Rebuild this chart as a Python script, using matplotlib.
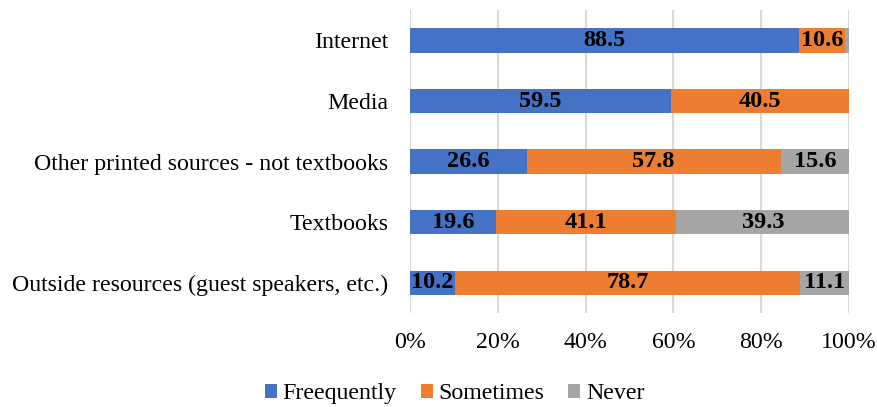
import numpy as np
from matplotlib import pyplot as plt

plt.rcParams['font.family'] = ['Liberation Serif', 'DejaVu Serif']

categories = ['Internet', 'Media', 'Other printed sources - not textbooks',
              'Textbooks', 'Outside resources (guest speakers, etc.)']
frequently = [88.5, 59.5, 26.6, 19.6, 10.2]
sometimes = [10.6, 40.5, 57.8, 41.1, 78.7]
never = [0.9, 0.0, 15.6, 39.3, 11.1]

series_names = ['Freequently', 'Sometimes', 'Never']
colors = ['#4472C4', '#ED7D31', '#A5A5A5']

fig = plt.figure(figsize=(8.78, 4.07), dpi=100)
ax = fig.add_axes([0.467, 0.231, 0.5, 0.744])

y = np.arange(len(categories))
left = np.zeros(len(categories))
for name, vals, col in zip(series_names, [frequently, sometimes, never], colors):
    vals = np.array(vals)
    ax.barh(y, vals, left=left, height=0.4, color=col, label=name, zorder=2)
    for yi, l, v in zip(y, left, vals):
        if v >= 5:
            ax.text(l + v / 2, yi, '{:.1f}'.format(v), ha='center', va='center',
                    fontsize=17.5, fontweight='bold', color='black', zorder=3)
    left += vals

ax.set_xlim(0, 100)
ax.set_ylim(4.5, -0.5)
ax.set_yticks(y)
ax.set_yticklabels(categories, fontsize=17.2)
ax.set_xticks([0, 20, 40, 60, 80, 100])
ax.set_xticklabels(['0%', '20%', '40%', '60%', '80%', '100%'], fontsize=17.2)
ax.tick_params(length=0, pad=14, axis='x')
ax.tick_params(length=0, pad=15.5, axis='y')
ax.grid(axis='x', color='#D9D9D9', linewidth=1.5, zorder=0)
for s in ax.spines.values():
    s.set_visible(False)

ax.legend(loc='center', bbox_to_anchor=(0.518, 0.032), bbox_transform=fig.transFigure,
          ncol=3, frameon=False, fontsize=17.2, handlelength=0.5, handleheight=0.5,
          handletextpad=0.25, columnspacing=1.0)

fig.savefig('out.png', dpi=100)
